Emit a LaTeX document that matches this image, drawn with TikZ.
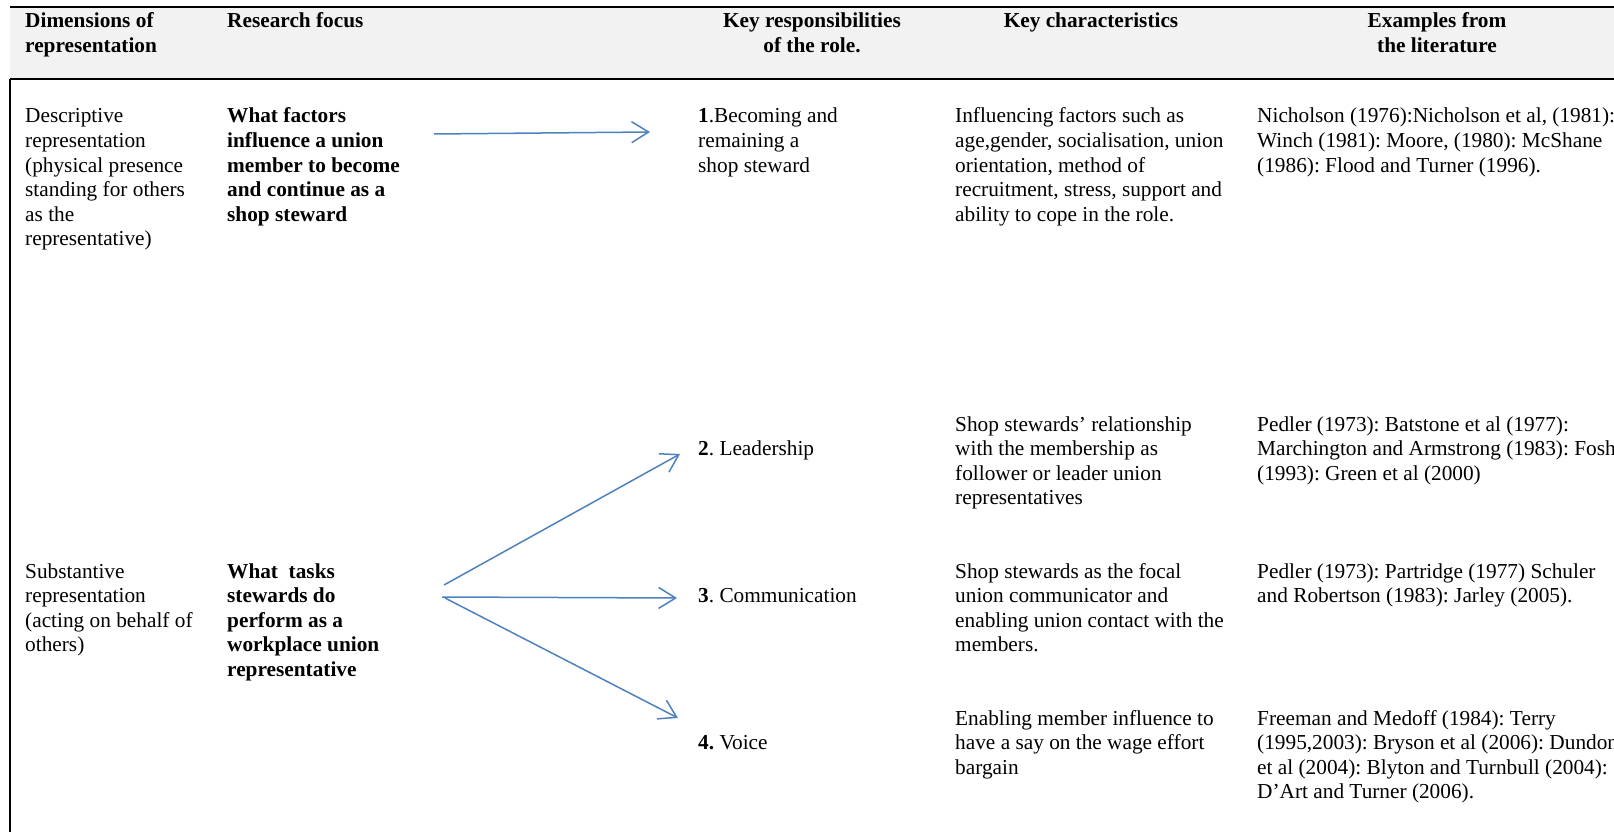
\documentclass[tikz,border=0pt]{standalone}
\usepackage{fontspec}
\setmainfont{Liberation Serif}
\usetikzlibrary{arrows.meta}
\frenchspacing

\definecolor{headfill}{RGB}{242,242,242}
\definecolor{arrowblue}{RGB}{79,129,189}

\newcommand{\bodysize}{\fontsize{21.3pt}{24.6pt}\selectfont}
\newcommand{\ml}[1]{\begin{tabular}[t]{@{}l@{}}#1\end{tabular}}
\newcommand{\mc}[1]{\begin{tabular}[t]{@{}c@{}}#1\end{tabular}}

\tikzset{
  cell/.style={anchor=base west, inner sep=0pt, font=\bodysize},
  headcell/.style={anchor=base west, inner sep=0pt, font=\bodysize\bfseries},
  headmid/.style={anchor=base, inner sep=0pt, font=\bodysize\bfseries},
  rule/.style={line width=2.3pt, black},
  link/.style={draw=arrowblue, line width=1.5pt,
    -{Straight Barb[length=17pt, width=21pt, line width=1.5pt]}}
}

\begin{document}
\begin{tikzpicture}[x=1pt, y=-1pt]
\useasboundingbox (0,0) rectangle (1614,832);

% header band and table rules
\fill[headfill] (10,7) rectangle (1614,79);
\draw[rule] (10,7) -- (1614,7);
\draw[rule] (10,79) -- (1614,79);
\draw[line width=2pt] (10,79) -- (10,832);

% header
\node[headcell] (h1) at (25,28) {\ml{Dimensions of\\representation}};
\node[headcell] (h2) at (227,28) {Research focus};
\node[headmid]  (h3) at (812,28) {\mc{Key responsibilities\\of the role.}};
\node[headmid]  (h4) at (1091,28) {Key characteristics};
\node[headmid]  (h5) at (1437,28) {\mc{Examples from\\the literature}};

% descriptive representation
\node[cell] (d1) at (25,123) {\ml{Descriptive\\representation\\(physical presence\\standing for others\\as the\\representative)}};
\node[cell,font=\bodysize\bfseries] (d2) at (227,123) {\ml{What factors\\influence a union\\member to become\\and continue as a\\shop steward}};
\node[cell] (r1) at (698,123) {\ml{\textbf{1}.Becoming and\\remaining a\\shop steward}};
\node[cell] (c1) at (955,123) {\ml{Influencing factors such as\\age,gender, socialisation, union\\orientation, method of\\recruitment, stress, support and\\ability to cope in the role.}};
\node[cell] (e1) at (1257,123) {\ml{Nicholson (1976):Nicholson et al, (1981):\\Winch (1981): Moore, (1980): McShane\\(1986): Flood and Turner (1996).}};

% substantive representation
\node[cell] (s1) at (25,578) {\ml{Substantive\\representation\\(acting on behalf of\\others)}};
\node[cell,font=\bodysize\bfseries] (s2) at (227,578) {\ml{What\ \ tasks\\stewards do\\perform as a\\workplace union\\representative}};

\node[cell] (r2) at (698,455) {\textbf{2}. Leadership};
\node[cell] (c2) at (955,431) {\ml{Shop stewards’ relationship\\with the membership as\\follower or leader union\\representatives}};
\node[cell] (e2) at (1257,431) {\ml{Pedler (1973): Batstone et al (1977):\\Marchington and Armstrong (1983): Fosh\\(1993): Green et al (2000)}};

\node[cell] (r3) at (698,602) {\textbf{3}. Communication};
\node[cell] (c3) at (955,578) {\ml{Shop stewards as the focal\\union communicator and\\enabling union contact with the\\members.}};
\node[cell] (e3) at (1257,578) {\ml{Pedler (1973): Partridge (1977) Schuler\\and Robertson (1983): Jarley (2005).}};

\node[cell] (r4) at (698,749) {\textbf{4.} Voice};
\node[cell] (c4) at (955,725) {\ml{Enabling member influence to\\have a say on the wage effort\\bargain}};
\node[cell] (e4) at (1257,725) {\ml{Freeman and Medoff (1984): Terry\\(1995,2003): Bryson et al (2006): Dundon\\et al (2004): Blyton and Turnbull (2004):\\D’Art and Turner (2006).}};

% arrow end points
\coordinate (a1s) at (434,134);
\coordinate (a1e) at (650,132);
\coordinate (a2s) at (444,585);
\coordinate (a2e) at (680,454);
\coordinate (a3s) at (442,597);
\coordinate (a3e) at (677,598);
\coordinate (a4s) at (445,598);
\coordinate (a4e) at (678,718);

\draw[link] (a1s) -- (a1e);
\draw[link] (a2s) -- (a2e);
\draw[link] (a3s) -- (a3e);
\draw[link] (a4s) -- (a4e);
\end{tikzpicture}
\end{document}
